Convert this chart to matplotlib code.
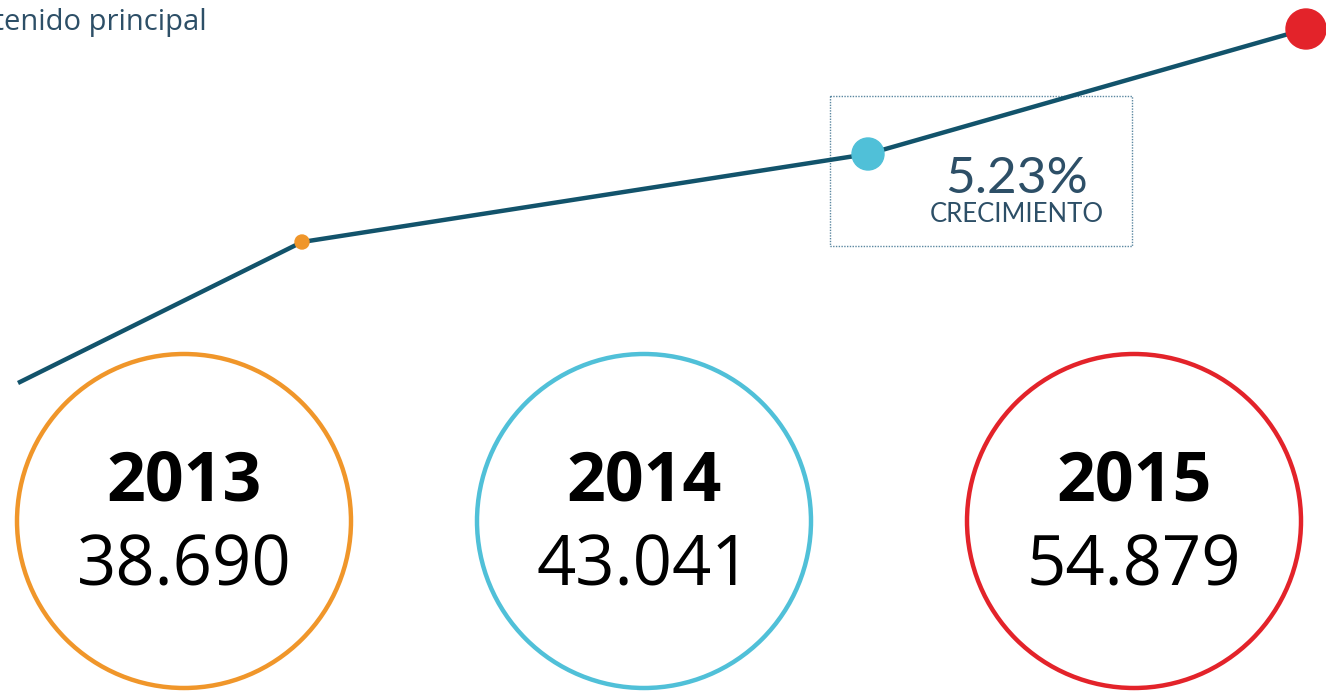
import matplotlib.pyplot as plt
from matplotlib.patches import Circle, Rectangle

# data
years = ['2013', '2014', '2015']
values = ['38.690', '43.041', '54.879']
colors = ['#f0962a', '#50c0d8', '#e3232a']
growth_label = '5.23%'
growth_sub = 'CRECIMIENTO'
title = 'Contenido principal'

# trend line (canvas units, y grows downward)
line_x = [18, 302, 868, 1306]
line_y = [383, 242, 154, 29]
marker_r = [7, 16, 20]

circle_x = [184, 644, 1134]
circle_y = 521
circle_r = 167

fig = plt.figure(figsize=(13.26, 6.91), dpi=100)
ax = fig.add_axes([0, 0, 1, 1])
ax.set_xlim(0, 1326)
ax.set_ylim(691, 0)
ax.set_aspect('equal')
ax.axis('off')

line_col = '#12536b'
text_col = '#2d4f67'

# dotted box behind the growth label
ax.add_patch(Rectangle((830, 96), 302, 150, fill=False, edgecolor='#5b87a0',
                       linestyle=(0, (1, 1)), linewidth=1.0, zorder=1))

ax.plot(line_x, line_y, color=line_col, linewidth=3.2, solid_capstyle='butt', zorder=2)
for x, y, r, c in zip(line_x[1:], line_y[1:], marker_r, colors):
    ax.add_patch(Circle((x, y), r, color=c, zorder=3, clip_on=False))

ax.text(1016, 193, growth_label, ha='center', va='baseline', fontsize=37,
        color=text_col, family='Lato')
ax.text(1017, 222, growth_sub, ha='center', va='baseline', fontsize=18.5,
        color=text_col, family='Lato')

ax.text(207, 30, title, ha='right', va='baseline', fontsize=21,
        color=text_col, family='Open Sans')

for x, c, yr, v in zip(circle_x, colors, years, values):
    ax.add_patch(Circle((x, circle_y), circle_r, fill=False, edgecolor=c,
                        linewidth=3.2, zorder=2))
    ax.text(x, 500, yr, ha='center', va='baseline', fontsize=49,
            fontweight='bold', color='black', family='Open Sans')
    ax.text(x, 586, v, ha='center', va='baseline', fontsize=49.5,
            color='black', family='Open Sans')

fig.savefig('out.png', dpi=100)
